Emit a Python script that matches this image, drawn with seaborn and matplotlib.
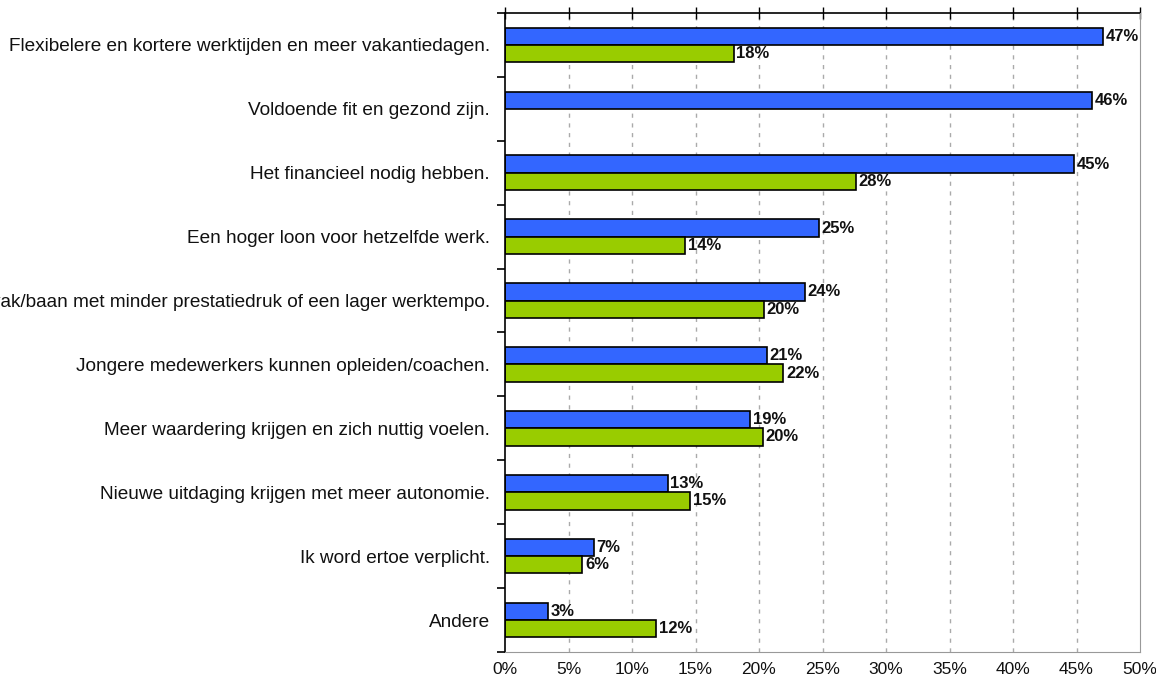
import numpy as np
import pandas as pd
import matplotlib
matplotlib.use("Agg")
import matplotlib.pyplot as plt
import seaborn as sns

# Categories (top to bottom)
categories = [
    "Flexibelere en kortere werktijden en meer vakantiedagen.",
    "Voldoende fit en gezond zijn.",
    "Het financieel nodig hebben.",
    "Een hoger loon voor hetzelfde werk.",
    "Een vak/baan met minder prestatiedruk of een lager werktempo.",
    "Jongere medewerkers kunnen opleiden/coachen.",
    "Meer waardering krijgen en zich nuttig voelen.",
    "Nieuwe uitdaging krijgen met meer autonomie.",
    "Ik word ertoe verplicht.",
    "Andere",
]
series_names = ["Reeks 1", "Reeks 2"]
blue_values = [47.1, 46.2, 44.8, 24.7, 23.6, 20.6, 19.3, 12.8, 7.0, 3.4]
green_values = [18.0, np.nan, 27.6, 14.2, 20.4, 21.9, 20.3, 14.6, 6.1, 11.9]
x_ticks = [0, 5, 10, 15, 20, 25, 30, 35, 40, 45, 50]

df = pd.DataFrame({
    "categorie": categories * 2,
    "reeks": [series_names[0]] * len(categories) + [series_names[1]] * len(categories),
    "waarde": blue_values + green_values,
}).dropna()

sns.set_style("white")
plt.rcParams["font.family"] = ["Liberation Sans", "DejaVu Sans"]

fig = plt.figure(figsize=(11.56, 6.9), dpi=100)
ax = fig.add_axes([505 / 1156, 1 - 652 / 690, 635 / 1156, 639 / 690])

sns.barplot(data=df, y="categorie", x="waarde", hue="reeks",
            order=categories, hue_order=series_names,
            palette=["#3366FF", "#99CC00"], saturation=1, width=0.54,
            edgecolor="black", linewidth=1.2, orient="h",
            legend=False, ax=ax)

for cont in ax.containers:
    labels = [f"{round(b.get_width())}%" for b in cont]
    ax.bar_label(cont, labels=labels, padding=2, fontsize=12,
                 fontweight="bold", color="#111111")

ax.set_xlim(0, 50)
ax.set_ylim(len(categories) - 0.5, -0.5)
ax.set_xlabel("")
ax.set_ylabel("")

# x axis
ax.set_xticks(x_ticks)
ax.set_xticklabels([f"{t}%" for t in x_ticks], fontsize=12.5, color="#111111")
ax.tick_params(axis="x", length=0, pad=7)
for t in x_ticks[1:-1]:
    ax.axvline(t, color="#aaaaaa", linestyle=(0, (3, 4)), linewidth=1, zorder=0)

top = ax.secondary_xaxis("top")
top.set_xticks(x_ticks)
top.tick_params(direction="inout", length=8, width=1, labeltop=False, color="black")
top.spines["top"].set_color("black")
top.spines["top"].set_linewidth(1.2)

# y axis
ax.tick_params(axis="y", which="major", length=0, pad=11, labelsize=13.7,
               labelcolor="#111111")
ax.set_yticks(np.arange(-0.5, len(categories)), minor=True)
ax.tick_params(axis="y", which="minor", direction="out", length=6, width=1.2,
               color="black", left=True)

ax.spines["left"].set_color("black")
ax.spines["left"].set_linewidth(1.2)
ax.spines["top"].set_visible(False)
ax.spines["bottom"].set_color("#999999")
ax.spines["right"].set_color("#999999")

fig.savefig("out.png", dpi=100)
